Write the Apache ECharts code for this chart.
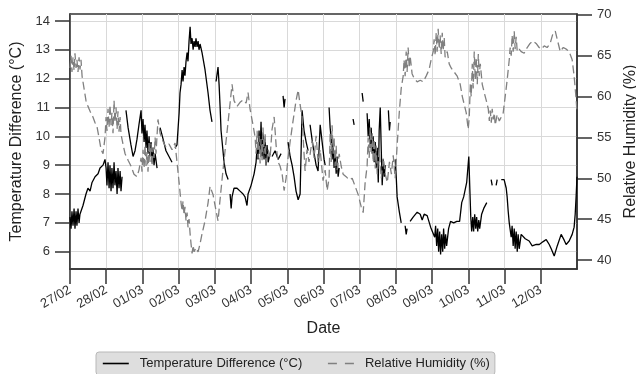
<!DOCTYPE html>
<html lang="en" style="height: 100%">

<head>
  <meta charset="utf-8">
</head>

<body style="height: 100%; margin: 0">
  <div id="container" style="width: 636px; height: 374px"></div>

  <script type="text/javascript" src="https://fastly.jsdelivr.net/npm/echarts@6/dist/echarts.min.js"></script>

  <script type="text/javascript">
    // hours since 27/02 00:00, one label per day
    var dayLabels = ['27/02', '28/02', '01/03', '02/03', '03/03', '04/03', '05/03',
      '06/03', '07/03', '08/03', '09/03', '10/03', '11/03', '12/03'];
    var tempTicks = [6, 7, 8, 9, 10, 11, 12, 13, 14];
    var humTicks = [40, 45, 50, 55, 60, 65, 70];

    // [hour, temperature difference °C], null = missing
    var tempData = [
      [0, 7.2], [0.7, 6.8], [1.3, 7.4], [2, 6.9], [2.7, 7.5], [3.3, 6.8], [4, 7.4], [4.6, 6.9],
      [5.3, 7.5], [6, 7.0], [6.6, 7.3], [8.6, 7.6], [10.6, 8.0], [11.9, 8.2], [13.3, 8.1],
      [14.6, 8.4], [16.6, 8.6], [18.6, 8.7], [19.9, 8.9], [21.9, 9.0], [23.2, 9.2],
      [23.9, 8.9], [24.5, 8.3], [25.2, 9.1], [25.9, 8.2], [26.5, 9.0], [27.2, 8.1], [27.8, 8.9],
      [28.5, 8.2], [29.2, 9.1], [29.8, 8.3], [30.5, 8.8], [31.2, 8.0], [31.8, 8.9], [32.5, 8.2],
      [33.2, 8.8], [33.8, 8.1], [34.5, 8.6], [35.5, null],
      [37.1, 10.9], [38.5, 10.3], [40.4, 9.7], [41.8, 9.3], [43.1, 9.5], [44.4, 9.9], [45.7, 10.4],
      [47.1, 10.9], [47.7, 10.1], [48.4, 10.6], [49.1, 9.8], [49.7, 10.4], [50.4, 9.6], [51, 10.2],
      [51.7, 9.4], [52.4, 10.0], [53, 9.3], [53.7, 9.8], [54.4, 9.1], [55, 9.6], [55.7, 9.0],
      [56.4, 9.4], [57.7, 8.9], [58.7, null],
      [59.7, 10.3], [61.7, 9.9], [63.6, 9.5], [65.6, 9.3], [67.6, 9.1], [68.6, null],
      [69.6, 9.6], [70.9, 9.7], [72.3, 10.8], [72.9, 11.5], [73.6, 11.8], [74.3, 12.3], [74.9, 11.9],
      [75.6, 12.4], [76.2, 12.1], [76.9, 12.6], [77.6, 12.9], [78.2, 12.6], [78.9, 13.3], [79.6, 13.8],
      [80.2, 13.2], [80.9, 13.4], [81.6, 13.0], [82.2, 13.3], [82.9, 13.1], [83.5, 13.4], [84.2, 13.1],
      [84.9, 13.3], [85.5, 13.0], [86.2, 13.2], [87.5, 12.9], [89.5, 12.3], [91.5, 11.5], [92.8, 10.9],
      [94.1, 10.5], [95.4, null],
      [96.8, 11.9], [98.1, 12.4], [98.8, 11.8], [99.5, 11.0], [100.1, 10.2], [102.1, 9.1], [103.4, 8.7],
      [104.8, 8.5], [105.4, null],
      [106.1, 8.0], [106.8, 7.5], [107.4, 7.9], [108.7, 8.2], [110.7, 8.2], [112.7, 8.1], [114.7, 8.0],
      [116, 7.9], [117.3, 7.6], [118, 8.0], [120, 8.3], [122, 8.7], [123.3, 9.1], [124, 9.6],
      [124.6, 9.2], [125.3, 10.2], [126, 9.4], [126.6, 10.5], [127.3, 9.3], [127.9, 10.1], [128.6, 9.2],
      [129.3, 9.9], [129.9, 9.0], [130.6, 9.7], [131.3, 9.1], [132.6, 9.4], [133.2, null],
      [133.9, 9.3], [135.9, 9.5], [137.9, 9.2], [139.9, 9.4], [140.5, null],
      [141.2, 11.4], [141.9, 11.0], [142.5, 11.3], [143.5, null],
      [144.5, 9.8], [145.9, 9.3], [147.2, 9.0], [148.5, 8.6], [149.8, 8.1], [151.2, 7.8], [152.5, 8.0],
      [153.8, 10.9], [155.1, 10.2], [156.5, 9.8], [157.8, 9.5], [158.4, null],
      [159.1, 10.4], [160.4, 9.9], [161.8, 9.4], [163.1, 9.0], [164.4, 8.8], [165.8, 10.4], [167.1, 9.8],
      [168.4, 9.2], [169.1, 9.0], [170.4, null],
      [171.7, 11.0], [172.4, 10.3], [173.1, 9.9], [173.7, 9.2], [174.4, 9.8], [175, 8.9], [175.7, 9.5],
      [176.4, 8.7], [177, 9.3], [177.7, 8.6], [178.4, 8.9], [183, null],
      [187.6, 10.6], [188.3, 10.4], [190, null],
      [193.6, 11.5], [194.3, 11.2], [195.5, null],
      [196.9, 10.8], [197.6, 10.0], [198.3, 10.6], [198.9, 9.6], [199.6, 10.3], [200.3, 9.4], [200.9, 10.0],
      [201.6, 9.1], [202.3, 9.8], [202.9, 8.9], [203.6, 9.6], [204.3, 8.4], [204.9, 10.2], [205.6, 11.0],
      [206.3, 9.5], [206.9, 8.3], [207.6, 9.2], [208.3, 8.6], [208.9, 9.0], [210, null],
      [211, 10.9], [211.7, 10.2], [212.2, 10.5], [213.5, null],
      [215.5, 9.2], [216.2, 8.6], [216.8, 7.9], [218.2, 7.4], [219.5, 7.0], [220.8, null],
      [222.1, 6.9], [222.8, 6.6], [223.4, 6.8], [224.4, null],
      [225.4, 7.05], [227.4, 7.2], [230.1, 7.37], [232.1, 7.3], [233.4, 7.1], [234.7, 7.3], [236.7, 7.25],
      [239, 6.85], [240.3, 6.9], [241.7, 6.5], [242.3, 6.9], [243, 6.2], [243.7, 6.8], [244.3, 6.0],
      [245, 6.7], [245.6, 5.9], [246.3, 6.6], [247, 6.0], [247.6, 6.8], [248.3, 6.1], [248.9, 6.6],
      [249.6, 6.2], [250.9, 6.8], [252.2, 7.05], [254.3, 7.0], [256.3, 7.05], [258.2, 7.05],
      [259.6, 7.7], [260.9, 7.9], [262.9, 8.4], [264.3, 9.3], [264.9, 8.3], [265.6, 7.2], [266.2, 6.7],
      [266.9, 7.2], [267.5, 6.7], [268.2, 7.3], [268.9, 6.8], [269.5, 7.2], [270.2, 6.7], [270.9, 7.1],
      [271.5, 6.8], [272.8, 7.3], [274.2, 7.5], [276.2, 7.7], [277.5, null],
      [279.1, 8.5], [279.8, 8.3], [281, null],
      [282.4, 8.3], [283.1, 8.5], [284.5, null],
      [285.8, 8.5], [287.7, 8.5], [289.1, 8.2], [289.7, 7.9], [290.4, 7.4], [291.1, 7.0], [292.4, 6.5],
      [293, 6.9], [293.7, 6.2], [294.4, 6.8], [295, 6.1], [295.7, 6.7], [296.4, 6.0], [297, 6.6],
      [297.7, 6.1], [299, 6.6], [301.7, 6.45], [304.3, 6.37], [306.3, 6.2], [309, 6.25], [311, 6.25],
      [313.6, 6.35], [315.6, 6.42], [317.6, 6.25], [318.9, 6.1], [320.9, 5.85], [322.9, 6.2],
      [325.5, 6.6], [327.5, 6.4], [328.8, 6.25], [330.8, 6.37], [332.8, 6.6], [334.1, 6.85],
      [334.8, 7.3], [335.5, 8.0], [336, 8.6]
    ];

    // [hour, relative humidity %]
    var humData = [
      [0, 63.5], [0.7, 65.0], [1.3, 63.0], [2, 64.8], [2.7, 63.2], [3.3, 65.3], [4, 63.5], [4.6, 64.5],
      [5.3, 63.0], [6, 64.8], [6.6, 63.3], [7.3, 64.5], [8, 62.5], [9.3, 61.0], [10.6, 59.5],
      [11.9, 58.8], [13.3, 58.2], [15.2, 57.5], [16.6, 56.8], [17.9, 56.3], [19.2, 55.0], [20.6, 53.5],
      [21.9, 53.0], [23.2, 55.0], [23.9, 57.5], [24.5, 55.8], [25.2, 58.5], [25.9, 56.2], [26.5, 59.0],
      [27.2, 56.5], [27.8, 58.0], [28.5, 55.5], [29.2, 59.5], [29.8, 56.8], [30.5, 58.7], [31.2, 56.0],
      [31.8, 58.2], [32.5, 55.7], [33.2, 57.5], [33.8, 55.4], [35.1, 54.2], [36.5, 53.0], [38.5, 52.2],
      [40.4, 51.5], [42.4, 50.5], [44.4, 50.2], [45.7, 51.0], [47.1, 52.5], [47.7, 50.8], [48.4, 53.5],
      [49.1, 51.2], [49.7, 54.0], [50.4, 51.5], [51, 53.2], [51.7, 50.8], [52.4, 54.5], [53, 52.0],
      [53.7, 54.2], [54.4, 51.5], [55, 53.8], [55.7, 52.5], [56.4, 55.0], [57, 53.0], [58.3, 57.2],
      [59.7, 55.5], [61.7, 54.5], [63.6, 53.8], [65.6, 54.2], [67.6, 53.5], [69.6, 54.3], [70.9, 52.0],
      [72.3, 49.5], [73.6, 47.0], [74.3, 46.0], [74.9, 47.2], [75.6, 45.5], [76.2, 46.5], [76.9, 44.8],
      [77.6, 45.8], [78.2, 44.0], [78.9, 45.0], [79.6, 43.2], [80.2, 42.0], [80.9, 40.8], [81.6, 41.8],
      [82.2, 41.0], [83.5, 41.5], [84.9, 41.0], [86.2, 42.0], [87.5, 43.2], [89.5, 44.8], [91.5, 47.0],
      [92.8, 49.0], [94.8, 48.0], [96.8, 46.0], [98.1, 44.8], [99.5, 47.5], [101.4, 51.0], [103.4, 54.5],
      [105.4, 58.0], [107.4, 61.5], [108.7, 59.5], [110.7, 58.8], [112.7, 59.3], [114.7, 59.6],
      [116.7, 59.2], [118, 60.5], [119.3, 58.5], [121.3, 56.5], [122.7, 55.0], [123.3, 53.0],
      [124, 55.8], [124.6, 52.5], [125.3, 55.2], [126, 51.8], [126.6, 54.8], [127.3, 52.2], [127.9, 56.2],
      [128.6, 53.0], [129.3, 55.5], [129.9, 51.5], [131.3, 53.5], [132.6, 52.5], [133.9, 56.0],
      [135.3, 57.5], [136.6, 54.0], [137.9, 52.0], [139.2, 51.5], [140.6, 50.5], [141.9, 48.5],
      [143.2, 50.0], [144.5, 52.5], [145.9, 54.5], [147.8, 57.0], [149.8, 59.5], [151.2, 60.8],
      [152.5, 59.0], [153.8, 57.5], [155.1, 53.0], [155.8, 50.9], [157.1, 53.5], [158.4, 52.0],
      [160.4, 54.6], [161.8, 52.5], [163.1, 55.2], [164.4, 52.0], [165.8, 53.5], [167.7, 49.7],
      [169.1, 51.0], [170.4, 48.5], [171.7, 50.0], [172.4, 55.5], [173.1, 52.0], [173.7, 56.5],
      [174.4, 53.0], [175, 55.0], [175.7, 51.5], [176.4, 54.0], [177, 51.0], [178.4, 53.0], [179.7, 51.5],
      [181, 50.5], [183, 50.2], [185, 49.8], [187, 50.0], [189, 49.0], [191, 48.0], [193, 46.5],
      [194.3, 45.8], [195.6, 49.5], [196.9, 51.5], [197.6, 55.0], [198.3, 52.5], [198.9, 56.2],
      [199.6, 53.0], [200.3, 55.5], [200.9, 52.0], [201.6, 54.8], [202.3, 51.2], [202.9, 54.0],
      [203.6, 50.5], [204.9, 53.5], [206.3, 50.0], [207.6, 52.5], [208.9, 50.5], [210.3, 49.5],
      [211.7, 52.0], [213, 50.5], [214.2, 52.8], [215.5, 50.0], [216.8, 54.0], [218.2, 58.0],
      [219.5, 61.0], [220.8, 62.5], [221.4, 64.5], [222.1, 62.5], [222.8, 65.5], [223.4, 63.0],
      [224.1, 66.0], [224.8, 63.5], [225.4, 65.0], [226.7, 62.8], [228.1, 62.2], [230.1, 61.8],
      [232.1, 62.0], [234.1, 61.8], [236, 62.5], [238, 63.3], [239.3, 64.5], [240.7, 65.5], [241.3, 67.0],
      [242, 65.0], [242.7, 67.8], [243.3, 65.5], [244, 68.3], [244.7, 65.8], [245.3, 67.5], [246, 65.2],
      [246.7, 67.8], [247.3, 65.6], [248, 67.2], [248.6, 64.8], [250, 65.5], [251.3, 64.0], [252.6, 63.5],
      [254.6, 63.0], [256.6, 62.5], [258.6, 61.5], [260, 60.0], [261.3, 59.0], [262.6, 58.0],
      [263.9, 56.0], [264.6, 57.5], [265.3, 61.5], [265.9, 60.0], [266.6, 64.0], [267.2, 61.0],
      [267.9, 65.5], [268.6, 62.0], [269.2, 64.8], [269.9, 61.5], [270.6, 65.2], [271.2, 62.5],
      [271.9, 64.0], [273.2, 61.5], [274.5, 60.5], [275.9, 59.5], [277.2, 58.5], [277.9, 57.0],
      [278.5, 58.3], [279.2, 56.8], [279.8, 58.5], [280.5, 57.2], [281.2, 58.0], [281.8, 56.5],
      [283.1, 57.8], [284.5, 57.0], [285.8, 57.5], [287.1, 58.0], [288.4, 60.0], [289.7, 62.0],
      [291.1, 64.5], [291.7, 66.0], [292.4, 65.0], [293, 67.5], [293.7, 65.5], [294.4, 68.0], [295, 65.8],
      [295.7, 67.3], [296.4, 65.5], [297.7, 65.8], [299, 65.5], [301, 65.3], [303, 66.0], [304.9, 66.5],
      [306.9, 66.8], [308.9, 66.5], [310.9, 66.0], [312.3, 65.8], [314.3, 66.2], [316.2, 66.0],
      [318.2, 66.5], [320.2, 67.8], [321.6, 68.0], [322.9, 67.0], [324.9, 65.5], [326.9, 66.0],
      [328.9, 65.8], [330.8, 65.5], [332.8, 64.5], [334.1, 62.5], [335.5, 59.5], [336, 58.0]
    ];

    var dom = document.getElementById('container');
    var myChart = echarts.init(dom, null, { renderer: 'canvas' });

    var axisColor = '#333';
    var font = 'Liberation Sans';

    function toSeries(rows) {
      return rows.map(function (r) { return [r[0], r[1] === null ? '-' : r[1]]; });
    }

    var dayTicks = dayLabels.map(function (d, i) { return i * 24; });

    var option = {
      animation: false,
      textStyle: { fontFamily: font },
      grid: {
        left: 70, right: 59, top: 14, bottom: 105,
        outerBoundsMode: 'none', containLabel: false,
        show: true, borderColor: axisColor, borderWidth: 1.5, backgroundColor: 'transparent'
      },
      legend: {
        left: 96, top: 352,
        backgroundColor: '#dedede', borderColor: '#b8b8b8', borderWidth: 1, borderRadius: 3,
        padding: [5, 5, 5, 6],
        itemWidth: 26, itemHeight: 10, itemGap: 25,
        itemStyle: { opacity: 0 },
        textStyle: { fontSize: 13, color: '#222', fontFamily: font, padding: [0, 0, 0, 6] },
        data: [
          { name: 'Temperature Difference (°C)', lineStyle: { width: 1.6 } },
          { name: 'Relative Humidity (%)', lineStyle: { type: [9, 8], width: 1.3 } }
        ]
      },
      xAxis: {
        type: 'value', min: 0, max: 336,
        name: 'Date', nameLocation: 'middle', nameGap: 52,
        nameTextStyle: { fontSize: 16, color: '#222', fontFamily: font },
        axisLine: { lineStyle: { color: axisColor, width: 1.5 } },
        axisTick: { customValues: dayTicks, length: 15, lineStyle: { color: axisColor, width: 1.5 } },
        axisLabel: {
          customValues: dayTicks, rotate: 30, margin: 20, fontSize: 13, color: '#333',
          formatter: function (v) { return dayLabels[Math.round(v / 24)] || ''; }
        },
        splitLine: { show: true, lineStyle: { color: '#d9d9d9', width: 1 } }
      },
      yAxis: [
        {
          type: 'value', min: 5.4, max: 14.24, position: 'left',
          name: 'Temperature Difference (°C)', nameLocation: 'middle', nameGap: 45,
          nameTextStyle: { fontSize: 16, color: '#222', fontFamily: font },
          axisLine: { show: true, lineStyle: { color: axisColor, width: 1.5 } },
          axisTick: { show: true, customValues: tempTicks, length: 15, lineStyle: { color: axisColor, width: 1.5 } },
          axisLabel: { customValues: tempTicks, margin: 20, fontSize: 13, color: '#333' },
          splitLine: { show: true, lineStyle: { color: '#d9d9d9', width: 1 } }
        },
        {
          type: 'value', min: 38.9, max: 70.1, position: 'right',
          name: 'Relative Humidity (%)', nameLocation: 'middle', nameGap: 46,
          nameTextStyle: { fontSize: 16, color: '#222', fontFamily: font },
          axisLine: { show: true, lineStyle: { color: axisColor, width: 1.5 } },
          axisTick: { show: true, customValues: humTicks, length: 15, lineStyle: { color: axisColor, width: 1.5 } },
          axisLabel: { customValues: humTicks, margin: 20, fontSize: 13, color: '#333' },
          splitLine: { show: false }
        }
      ],
      series: [
        {
          name: 'Temperature Difference (°C)',
          type: 'line', yAxisIndex: 0, symbol: 'none', connectNulls: false,
          lineStyle: { color: '#000', width: 1.3 },
          itemStyle: { color: '#000' },
          data: toSeries(tempData)
        },
        {
          name: 'Relative Humidity (%)',
          type: 'line', yAxisIndex: 1, symbol: 'none',
          lineStyle: { color: '#808080', width: 1.3, type: [8, 4] },
          itemStyle: { color: '#808080' },
          data: toSeries(humData)
        }
      ]
    };

    myChart.setOption(option);
    window.addEventListener('resize', myChart.resize);
  </script>
</body>

</html>
